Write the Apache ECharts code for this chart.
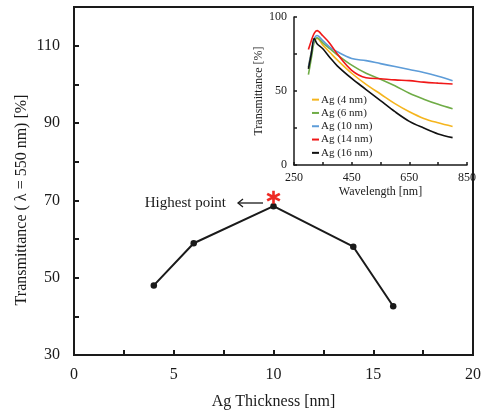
<!DOCTYPE html>
<html>
<head>
<meta charset="utf-8">
<script src="https://cdn.jsdelivr.net/npm/echarts@6/dist/echarts.min.js"></script>
<style>
  html, body { margin: 0; padding: 0; background: #fff; }
  #chart { width: 484px; height: 415px; }
</style>
</head>
<body>
<div id="chart"></div>
<script>
// Transmittance at 550 nm versus Ag layer thickness
const thickness = [4, 6, 10, 14, 16];
const transmittance550 = [48.0, 58.9, 68.5, 58.0, 42.6];

// Inset: full transmittance spectra for each Ag thickness
const wavelength = [300, 310, 320, 330, 350, 375, 400, 450, 500, 550, 600, 650, 700, 750, 800];
const specAg4  = [66, 76, 84, 85.5, 81, 76, 71, 62, 54.5, 48, 41.5, 36, 31.5, 28.5, 26];
const specAg6  = [61, 72, 83, 86, 82.5, 78.5, 74.5, 67.5, 62, 58, 53.5, 48.5, 44.5, 41, 38];
const specAg10 = [66, 76, 85, 87.5, 84, 79.5, 76.5, 72, 70.5, 68.5, 66.5, 64.5, 62.5, 60, 57];
const specAg14 = [78, 84, 89, 90.8, 87.3, 82, 75, 64, 59, 58.3, 57.5, 57, 56, 55.3, 54.7];
const specAg16 = [65, 75, 85.5, 82, 78.5, 72.5, 67, 58.5, 51, 43.5, 36, 29.5, 25, 21, 18.5];

const spectraNames = ['Ag (4 nm)', 'Ag (6 nm)', 'Ag (10 nm)', 'Ag (14 nm)', 'Ag (16 nm)'];
const spectraData = [specAg4, specAg6, specAg10, specAg14, specAg16];
const spectraColors = ['#f5b51e', '#6fac46', '#5d9cd8', '#f01818', '#111111'];

const SERIF = '"Liberation Serif", "DejaVu Serif", serif';
const INK = '#1a1a1a';

// six-armed asterisk used to flag the peak
const ASTERISK = 'path://M-1.8,-10L1.8,-10L1.8,10L-1.8,10Z' +
  'M-9.56,-3.44L-7.76,-6.56L9.56,3.44L7.76,6.56Z' +
  'M-7.76,6.56L-9.56,3.44L7.76,-6.56L9.56,-3.44Z';

const chart = echarts.init(document.getElementById('chart'), null, { renderer: 'canvas' });

const spectraSeries = spectraNames.map((name, i) => ({
  name: name,
  type: 'line',
  xAxisIndex: 1,
  yAxisIndex: 1,
  data: wavelength.map((w, j) => [w, spectraData[i][j]]),
  smooth: 0.35,
  showSymbol: false,
  lineStyle: { color: spectraColors[i], width: 1.6 },
  itemStyle: { color: spectraColors[i] },
  z: 3
}));

const option = {
  backgroundColor: '#fff',
  animation: false,
  textStyle: { fontFamily: SERIF, color: INK },
  grid: [
    { left: 74, right: 8, top: 7, bottom: 60, show: true, borderColor: INK, borderWidth: 2, backgroundColor: 'transparent' },
    { left: 294, width: 173, top: 17, height: 148 }
  ],
  legend: {
    data: spectraNames,
    orient: 'vertical',
    left: 312,
    top: 93,
    itemWidth: 7,
    itemHeight: 2,
    itemGap: 0,
    icon: 'rect',
    padding: 0,
    textStyle: { fontFamily: SERIF, fontSize: 11, color: INK, lineHeight: 13.3, padding: [0, 0, 0, -3] }
  },
  xAxis: [
    {
      gridIndex: 0, type: 'value', min: 0, max: 20, interval: 2.5,
      name: 'Ag Thickness [nm]', nameLocation: 'middle', nameGap: 39,
      nameTextStyle: { fontFamily: SERIF, fontSize: 16, color: INK },
      axisLine: { lineStyle: { color: INK, width: 2 } },
      axisTick: { inside: true, length: 5, lineStyle: { color: INK, width: 2 } },
      axisLabel: { fontFamily: SERIF, fontSize: 16, color: INK, margin: 12,
        formatter: v => (v % 5 === 0 ? String(v) : '') },
      splitLine: { show: false }
    },
    {
      gridIndex: 1, type: 'value', min: 250, max: 850, interval: 100,
      name: 'Wavelength [nm]', nameLocation: 'middle', nameGap: 21,
      nameTextStyle: { fontFamily: SERIF, fontSize: 12, color: INK },
      axisLine: { lineStyle: { color: INK, width: 1.5 } },
      axisTick: { inside: true, length: 3, lineStyle: { color: INK, width: 1.5 } },
      axisLabel: { fontFamily: SERIF, fontSize: 12, color: INK, margin: 7,
        formatter: v => ((v - 250) % 200 === 0 ? String(v) : '') },
      splitLine: { show: false }
    }
  ],
  yAxis: [
    {
      gridIndex: 0, type: 'value', min: 30, max: 120, interval: 10,
      axisLine: { lineStyle: { color: INK, width: 2 } },
      axisTick: { inside: true, length: 5, lineStyle: { color: INK, width: 2 } },
      axisLabel: { fontFamily: SERIF, fontSize: 16, color: INK, margin: 14,
        formatter: v => ((v - 30) % 20 === 0 && v < 120 ? String(v) : '') },
      splitLine: { show: false }
    },
    {
      gridIndex: 1, type: 'value', min: 0, max: 100, interval: 25,
      name: 'Transmittance [%]', nameLocation: 'middle', nameGap: 21,
      nameTextStyle: { fontFamily: SERIF, fontSize: 12, color: INK },
      axisLine: { lineStyle: { color: INK, width: 1.5 } },
      axisTick: { inside: true, length: 3, lineStyle: { color: INK, width: 1.5 } },
      axisLabel: { fontFamily: SERIF, fontSize: 12, color: INK, margin: 7,
        formatter: v => (v % 50 === 0 ? String(v) : '') },
      splitLine: { show: false }
    }
  ],
  graphic: [
    {
      type: 'text', x: 22, y: 200, rotation: Math.PI / 2,
      style: { text: 'Transmittance ( \u03bb = 550 nm) [%]', font: '16px ' + SERIF, fill: INK,
        textAlign: 'center', textVerticalAlign: 'middle' }
    },
    {
      type: 'text', x: 226, y: 203,
      style: { text: 'Highest point', font: '15px ' + SERIF, fill: INK,
        textAlign: 'right', textVerticalAlign: 'middle' }
    },
    {
      type: 'line', shape: { x1: 238, y1: 203, x2: 263, y2: 203 },
      style: { stroke: INK, lineWidth: 1.3 }
    },
    {
      type: 'polyline', shape: { points: [[243, 199], [238, 203], [243, 207]] },
      style: { stroke: INK, lineWidth: 1.3, fill: null }
    }
  ],
  series: [
    {
      name: 'T550',
      type: 'line',
      xAxisIndex: 0,
      yAxisIndex: 0,
      data: thickness.map((t, i) => [t, transmittance550[i]]),
      symbol: 'circle',
      symbolSize: 6.5,
      lineStyle: { color: INK, width: 2 },
      itemStyle: { color: INK },
      markPoint: {
        symbol: ASTERISK,
        symbolSize: [14, 13],
        symbolOffset: [0, -9],
        itemStyle: { color: '#ee2a24' },
        label: { show: false },
        data: [{ type: 'max' }]
      },
      z: 2
    }
  ].concat(spectraSeries)
};

chart.setOption(option);
</script>
</body>
</html>
